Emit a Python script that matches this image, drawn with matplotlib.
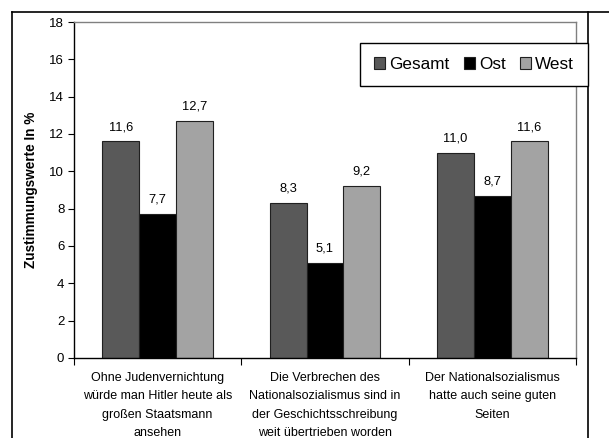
import numpy as np
import matplotlib
matplotlib.use("Agg")
import matplotlib.pyplot as plt
from matplotlib.lines import Line2D
from matplotlib.patches import Patch

plt.rcParams['font.family'] = ['Liberation Sans', 'DejaVu Sans']

# Daten
categories = ["Ohne Judenvernichtung\nwürde man Hitler heute als\ngroßen Staatsmann\nansehen",
              "Die Verbrechen des\nNationalsozialismus sind in\nder Geschichtsschreibung\nweit übertrieben worden",
              "Der Nationalsozialismus\nhatte auch seine guten\nSeiten"]
series_names = ["Gesamt", "Ost", "West"]
gesamt = [11.6, 8.3, 11.0]
ost = [7.7, 5.1, 8.7]
west = [12.7, 9.2, 11.6]
yticks = [0, 2, 4, 6, 8, 10, 12, 14, 16, 18]

colors = ["#595959", "#000000", "#a3a3a3"]

W, H = 609, 438
fig = plt.figure(figsize=(W / 100, H / 100), dpi=100)
ax = fig.add_axes([74 / W, 1 - 358 / H, (576 - 74) / W, (358 - 22) / H])

x = np.arange(len(categories)) + 0.5
bw = 0.22
for i, (vals, name) in enumerate(zip([gesamt, ost, west], series_names)):
  bars = ax.bar(x + (i - 1) * bw, vals, width=bw, color=colors[i],
                edgecolor="#202020", linewidth=0.8, label=name)
  for b, v in zip(bars, vals):
    ax.annotate(("%.1f" % v).replace(".", ","), (b.get_x() + b.get_width() / 2, v),
                xytext=(0, 6), textcoords="offset points",
                ha="center", va="bottom", fontsize=9.3)

ax.set_xlim(0, 3)
ax.set_ylim(0, 18)
ax.set_yticks(yticks)
ax.set_yticklabels([str(t) for t in yticks], fontsize=9.5)
ax.set_xticks([0, 1, 2, 3])
ax.set_xticklabels([])
ax.set_xticks(x, minor=True)
ax.set_xticklabels(categories, minor=True, fontsize=9, linespacing=1.72)
ax.tick_params(axis="x", which="major", direction="out", length=5, width=0.8)
ax.tick_params(axis="x", which="minor", length=0, pad=10)
ax.tick_params(axis="y", direction="out", length=4, width=0.8, pad=3)
ax.set_ylabel("Zustimmungswerte In %", fontsize=9.8, fontweight="bold", labelpad=8)

for s in ["top", "right"]:
  ax.spines[s].set_color("#808080")
  ax.spines[s].set_linewidth(1.0)
for s in ["left", "bottom"]:
  ax.spines[s].set_color("black")
  ax.spines[s].set_linewidth(1.0)

handles = [Patch(facecolor=c, edgecolor="#202020", linewidth=0.8) for c in colors]
leg = fig.legend(handles, series_names, ncol=3, loc="lower left",
                 bbox_to_anchor=(360 / W, 1 - 86 / H, 228 / W, 49 / H), mode="expand",
                 fontsize=12.3, frameon=True, fancybox=False, edgecolor="black",
                 handlelength=0.65, handleheight=0.65, handletextpad=0.25,
                 columnspacing=1.3, borderpad=0.82, borderaxespad=0)
leg.get_frame().set_linewidth(1.0)
leg.get_frame().set_alpha(1)

# Rahmen
fig.add_artist(Line2D([12 / W, 12 / W], [0, 1 - 12 / H], color="black", lw=1.2))
fig.add_artist(Line2D([12 / W, 1], [1 - 12 / H, 1 - 12 / H], color="black", lw=1.2))
fig.add_artist(Line2D([588 / W, 588 / W], [0, 1 - 12 / H], color="black", lw=1.2))

plt.savefig("out.png", dpi=100)
